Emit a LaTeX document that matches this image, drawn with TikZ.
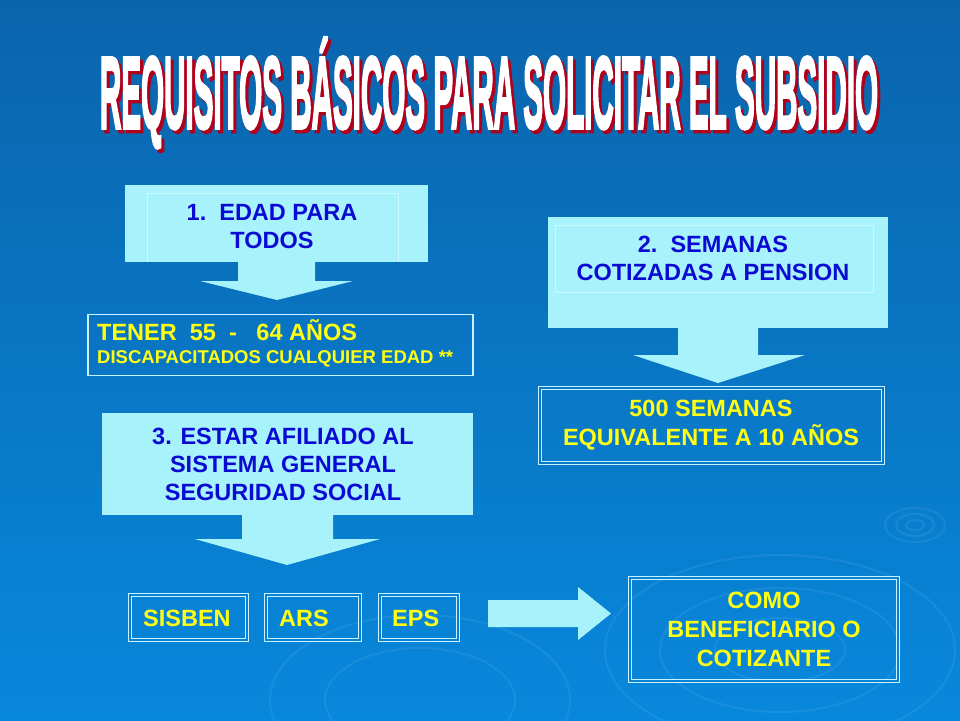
\documentclass[tikz,border=0pt]{standalone}
\usepackage{fontspec}
\setmainfont{Liberation Sans}
\newfontfamily\titlefont[FakeBold=3.5]{Liberation Sans Bold}
\usepackage{tikz}
\usepackage{graphicx}

\definecolor{fondoarriba}{HTML}{0A64AC}
\definecolor{fondoabajo}{HTML}{0888DC}
\definecolor{cian}{HTML}{A8F2FC}
\definecolor{cianclaro}{HTML}{CCFAFF}
\definecolor{azultexto}{HTML}{0A0AD2}
\definecolor{amarillo}{HTML}{FFFF14}
\definecolor{borde}{HTML}{C8F2FF}
\definecolor{rojosombra}{HTML}{B0001C}

\tikzset{
  cajacian/.style={fill=cian, draw=none, inner sep=0pt},
  cajalinea/.style={draw=borde, line width=1.1pt, inner sep=0pt},
  cajadoble/.style={draw=borde, line width=0.9pt, double=#1, double distance=2pt, inner sep=0pt},
  textoazul/.style={text=azultexto, font=\bfseries\fontsize{23.5}{28}\selectfont, align=center, inner sep=0pt},
  textoamarillo/.style={text=amarillo, font=\bfseries\fontsize{23.5}{29}\selectfont, align=center, inner sep=0pt},
  flecha/.style={fill=cian, draw=none},
  lineafina/.style={draw=cianclaro, line width=0.6pt},
  onda/.style={draw=white, opacity=0.07, line width=2pt}
}

\begin{document}
\begin{tikzpicture}[x=1pt, y=-1pt]
				\shade[top color=fondoarriba, bottom color=fondoabajo] (0,0) rectangle (960,720);
				\useasboundingbox (0,0) rectangle (960,720);

				% ondas del fondo
				\draw[onda] (915,525) ellipse [x radius=30, y radius=17];
				\draw[onda] (915,525) ellipse [x radius=19, y radius=11];
				\draw[onda] (915,525) ellipse [x radius=9, y radius=5];
				\draw[onda] (780,650) ellipse [x radius=175, y radius=95];
				\draw[onda] (780,650) ellipse [x radius=120, y radius=62];
				\draw[onda] (780,650) ellipse [x radius=65, y radius=32];
				\draw[onda] (420,700) ellipse [x radius=150, y radius=85];
				\draw[onda] (420,700) ellipse [x radius=95, y radius=52];

				% titulo
				\node[inner sep=0pt, text=rojosombra] (titulosombra) at (492,95) {\resizebox{778pt}{73pt}{\raisebox{0pt}[7.16pt][0pt]{\titlefont\fontsize{10}{12}\selectfont REQUISITOS BÁSICOS PARA SOLICITAR EL SUBSIDIO}}};
				\node[inner sep=0pt, text=white] (titulo) at (489,91.5) {\resizebox{778pt}{73pt}{\raisebox{0pt}[7.16pt][0pt]{\titlefont\fontsize{10}{12}\selectfont REQUISITOS BÁSICOS PARA SOLICITAR EL SUBSIDIO}}};

				% 1. edad
				\node[cajacian, minimum width=303pt, minimum height=77pt] (edad) at (276.5,223.5) {};
				\draw[lineafina] (147,262) -- (147,193) -- (398,193) -- (398,262);
				\node[textoazul] (edadtxt) at (272,227) {1.\ \ EDAD PARA\\TODOS};
				\fill[flecha] (238,261) -- (238,281) -- (200,281) -- (277,300) -- (353,281) -- (315,281) -- (315,261) -- cycle;

				\node[cajalinea, minimum width=385pt, minimum height=61pt] (tener) at (280.5,345) {};
				\node[textoamarillo, anchor=west] (tenertxt) at (97,330) {TENER\ \ 55\ \ -\ \ \ 64 AÑOS};
				\node[textoamarillo, anchor=west, font=\bfseries\fontsize{18.5}{21}\selectfont] (discaptxt) at (97,359) {DISCAPACITADOS CUALQUIER EDAD **};

				% 2. semanas
				\node[cajacian, minimum width=340pt, minimum height=111pt] (semanas) at (718,272.5) {};
				\draw[lineafina] (555,292) rectangle (873,225);
				\node[textoazul] (semanastxt) at (713,258) {2.\ \ SEMANAS\\COTIZADAS A PENSION};
				\fill[flecha] (678,327) -- (678,355) -- (633,355) -- (718,383) -- (805,355) -- (758,355) -- (758,327) -- cycle;

				\node[cajadoble=fondoabajo!55!fondoarriba, minimum width=343pt, minimum height=75pt] (quinientas) at (711.5,425.5) {};
				\node[textoamarillo] (quinientastxt) at (711,425) {500 SEMANAS\\EQUIVALENTE A 10 AÑOS};

				% 3. afiliacion
				\node[cajacian, minimum width=371pt, minimum height=102pt] (afiliado) at (287.5,464) {};
				\node[textoazul] (afiliadotxt) at (283,464) {3. ESTAR AFILIADO AL\\SISTEMA GENERAL\\SEGURIDAD SOCIAL};
				\fill[flecha] (242,514) -- (242,539) -- (195,539) -- (287,565) -- (380,539) -- (333,539) -- (333,514) -- cycle;

				\node[cajadoble=fondoabajo!85!fondoarriba, minimum width=117pt, minimum height=45pt] (sisben) at (188.5,617.5) {};
				\node[textoamarillo, anchor=west] (sisbentxt) at (143,618) {SISBEN};
				\node[cajadoble=fondoabajo!85!fondoarriba, minimum width=94pt, minimum height=45pt] (ars) at (313,617.5) {};
				\node[textoamarillo, anchor=west] (arstxt) at (279,618) {ARS};
				\node[cajadoble=fondoabajo!85!fondoarriba, minimum width=78pt, minimum height=45pt] (eps) at (419,617.5) {};
				\node[textoamarillo, anchor=west] (epstxt) at (392,618) {EPS};

				\fill[flecha] (488,600) -- (578,600) -- (578,587) -- (611,613.5) -- (578,640) -- (578,627) -- (488,627) -- cycle;

				\node[cajadoble=fondoabajo!85!fondoarriba, minimum width=268pt, minimum height=103pt] (como) at (764,629.5) {};
				\node[textoamarillo] (comotxt) at (764,629) {COMO\\BENEFICIARIO O\\COTIZANTE};
\end{tikzpicture}
\end{document}
